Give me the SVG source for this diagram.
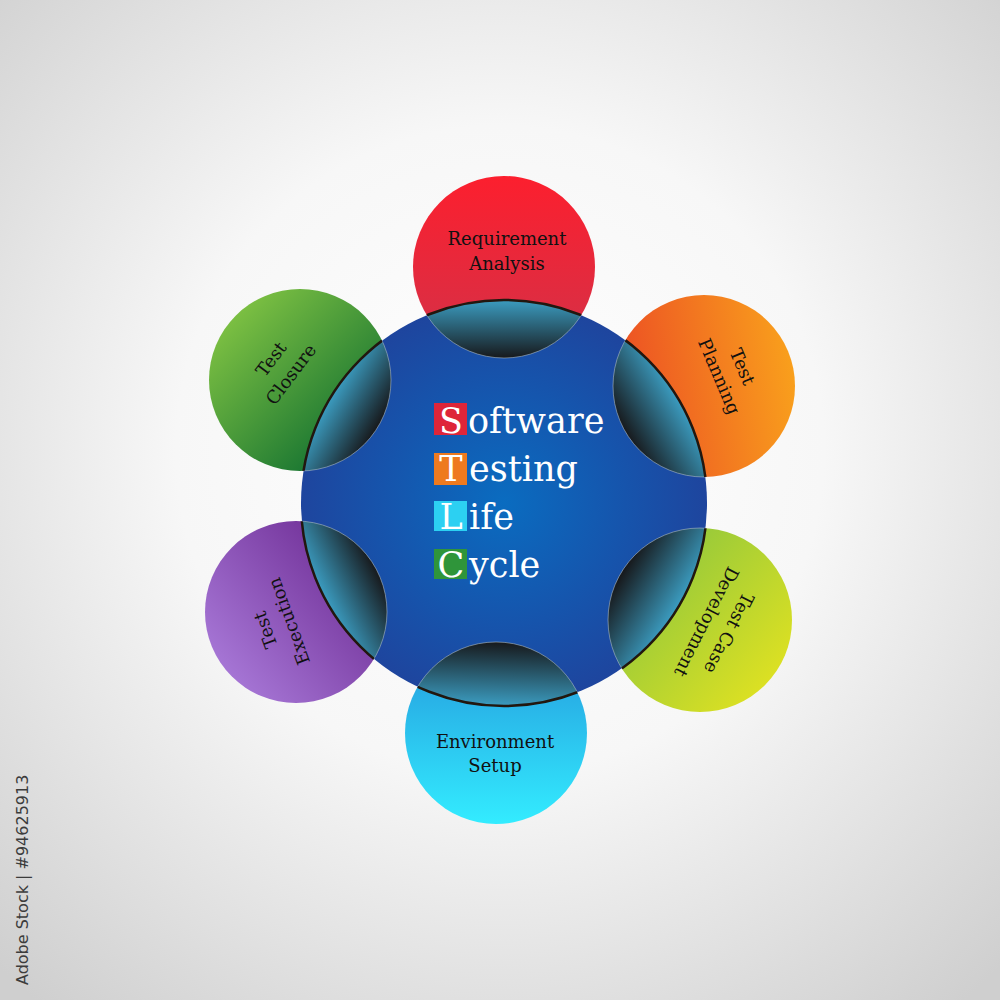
<svg xmlns="http://www.w3.org/2000/svg" width="1000" height="1000" viewBox="0 0 1000 1000">
<defs>
<radialGradient id="bg" cx="500" cy="450" r="720" gradientUnits="userSpaceOnUse">
<stop offset="0" stop-color="#ffffff"/><stop offset="0.45" stop-color="#f7f7f7"/><stop offset="1" stop-color="#cfcfcf"/>
</radialGradient>
<radialGradient id="gCenter" cx="0.5" cy="0.5" r="0.5">
<stop offset="0" stop-color="#0a6cc0"/><stop offset="0.6" stop-color="#1654ac"/><stop offset="1" stop-color="#1e459e"/>
</radialGradient>
<linearGradient id="gReq" x1="0" y1="0" x2="0" y2="1"><stop offset="0" stop-color="#fc1f2e"/><stop offset="1" stop-color="#d23249"/></linearGradient>
<linearGradient id="gPlan" x1="0.05" y1="0.55" x2="1" y2="0.4"><stop offset="0" stop-color="#ec4f24"/><stop offset="1" stop-color="#f9a01c"/></linearGradient>
<linearGradient id="gTcd" x1="0.1" y1="0.1" x2="0.95" y2="0.85"><stop offset="0" stop-color="#86c440"/><stop offset="1" stop-color="#e1e221"/></linearGradient>
<linearGradient id="gEnv" x1="0" y1="0" x2="0" y2="1"><stop offset="0" stop-color="#2498dc"/><stop offset="1" stop-color="#33ecff"/></linearGradient>
<linearGradient id="gExec" x1="0.05" y1="0.85" x2="0.9" y2="0.15"><stop offset="0" stop-color="#a97ad9"/><stop offset="1" stop-color="#6c2a92"/></linearGradient>
<linearGradient id="gClo" x1="0.1" y1="0.1" x2="0.9" y2="0.9"><stop offset="0" stop-color="#82c443"/><stop offset="1" stop-color="#08692f"/></linearGradient>
<linearGradient id="l1" gradientUnits="userSpaceOnUse" x1="504" y1="300" x2="504" y2="358"><stop offset="0" stop-color="#3b9cc0"/><stop offset="1" stop-color="#17191c"/></linearGradient>
<linearGradient id="l2" gradientUnits="userSpaceOnUse" x1="679" y1="400" x2="625" y2="432"><stop offset="0" stop-color="#3b9cc0"/><stop offset="1" stop-color="#17191c"/></linearGradient>
<linearGradient id="l3" gradientUnits="userSpaceOnUse" x1="678" y1="607" x2="622" y2="573"><stop offset="0" stop-color="#3b9cc0"/><stop offset="1" stop-color="#17191c"/></linearGradient>
<linearGradient id="l4" gradientUnits="userSpaceOnUse" x1="497" y1="706" x2="499" y2="642"><stop offset="0" stop-color="#3b9cc0"/><stop offset="1" stop-color="#17191c"/></linearGradient>
<linearGradient id="l5" gradientUnits="userSpaceOnUse" x1="324" y1="597" x2="377" y2="570"><stop offset="0" stop-color="#3b9cc0"/><stop offset="1" stop-color="#17191c"/></linearGradient>
<linearGradient id="l6" gradientUnits="userSpaceOnUse" x1="330" y1="398" x2="378" y2="427"><stop offset="0" stop-color="#3b9cc0"/><stop offset="1" stop-color="#17191c"/></linearGradient>
<clipPath id="cCenter"><circle cx="504" cy="503" r="203"/></clipPath>
<clipPath id="cOuter">
<circle cx="504" cy="267" r="91"/><circle cx="704" cy="386" r="91"/><circle cx="700" cy="620" r="92"/>
<circle cx="496" cy="733" r="91"/><circle cx="296" cy="612" r="91"/><circle cx="300" cy="380" r="91"/>
</clipPath>
</defs>
<style>
.lbl{font-family:"DejaVu Serif","Liberation Serif",serif;font-size:18px;fill:#111;text-anchor:middle}
.ttl{font-family:"DejaVu Serif","Liberation Serif",serif;font-size:35px;fill:#ffffff}
.ini{text-anchor:middle}
.lens{stroke:#b8c4c8;stroke-opacity:0.55;stroke-width:1}
.wm{font-family:"DejaVu Sans","Liberation Sans",sans-serif;font-size:16px;fill:#3c3c3c}
</style>
<rect width="1000" height="1000" fill="url(#bg)"/>

<g id="node-requirement-analysis">
<circle cx="504" cy="267" r="91" fill="url(#gReq)"/>
</g>
<g id="node-test-planning">
<circle cx="704" cy="386" r="91" fill="url(#gPlan)"/>
</g>
<g id="node-test-case-development">
<circle cx="700" cy="620" r="92" fill="url(#gTcd)"/>
</g>
<g id="node-environment-setup">
<circle cx="496" cy="733" r="91" fill="url(#gEnv)"/>
</g>
<g id="node-test-execution">
<circle cx="296" cy="612" r="91" fill="url(#gExec)"/>
</g>
<g id="node-test-closure">
<circle cx="300" cy="380" r="91" fill="url(#gClo)"/>
</g>

<g id="node-stlc">
<circle cx="504" cy="503" r="203" fill="url(#gCenter)"/>
</g>

<g id="overlaps" clip-path="url(#cCenter)">
<circle class="lens" cx="504" cy="267" r="91" fill="url(#l1)"/>
<circle class="lens" cx="704" cy="386" r="91" fill="url(#l2)"/>
<circle class="lens" cx="700" cy="620" r="92" fill="url(#l3)"/>
<circle class="lens" cx="496" cy="733" r="91" fill="url(#l4)"/>
<circle class="lens" cx="296" cy="612" r="91" fill="url(#l5)"/>
<circle class="lens" cx="300" cy="380" r="91" fill="url(#l6)"/>
</g>
<g id="edges" clip-path="url(#cOuter)">
<circle cx="504" cy="503" r="203" fill="none" stroke="#22170f" stroke-width="2.5"/>
</g>

<g id="labels">
<g transform="translate(507,250)"><text class="lbl" y="-5">Requirement</text><text class="lbl" y="20">Analysis</text></g>
<g transform="translate(732,371) rotate(67)"><text class="lbl" y="-5">Test</text><text class="lbl" y="20">Planning</text></g>
<g transform="translate(719,628) rotate(117)"><text class="lbl" y="-5">Test Case</text><text class="lbl" y="20">Development</text></g>
<g transform="translate(495,754)"><text class="lbl" y="-6">Environment</text><text class="lbl" y="18">Setup</text></g>
<g transform="translate(276,626) rotate(-110)"><text class="lbl" y="-5">Test</text><text class="lbl" y="20">Execution</text></g>
<g transform="translate(280,366) rotate(-53)"><text class="lbl" y="-5">Test</text><text class="lbl" y="20">Closure</text></g>
</g>

<g id="title">
<rect x="434" y="403" width="33" height="32" fill="#de2539"/>
<rect x="434" y="453" width="33" height="32" fill="#ee7a1f"/>
<rect x="434" y="501" width="33" height="30" fill="#2cd0f2"/>
<rect x="434" y="549" width="33" height="30" fill="#2f953a"/>
<text class="ttl ini" x="451" y="433">S</text><text class="ttl" x="468" y="433">oftware</text>
<text class="ttl ini" x="451" y="481">T</text><text class="ttl" x="469" y="481">esting</text>
<text class="ttl ini" x="451" y="529">L</text><text class="ttl" x="469" y="529">ife</text>
<text class="ttl ini" x="451" y="577">C</text><text class="ttl" x="469" y="577">ycle</text>
</g>

<text class="wm" transform="translate(28,985) rotate(-90)">Adobe Stock | #94625913</text>
</svg>
